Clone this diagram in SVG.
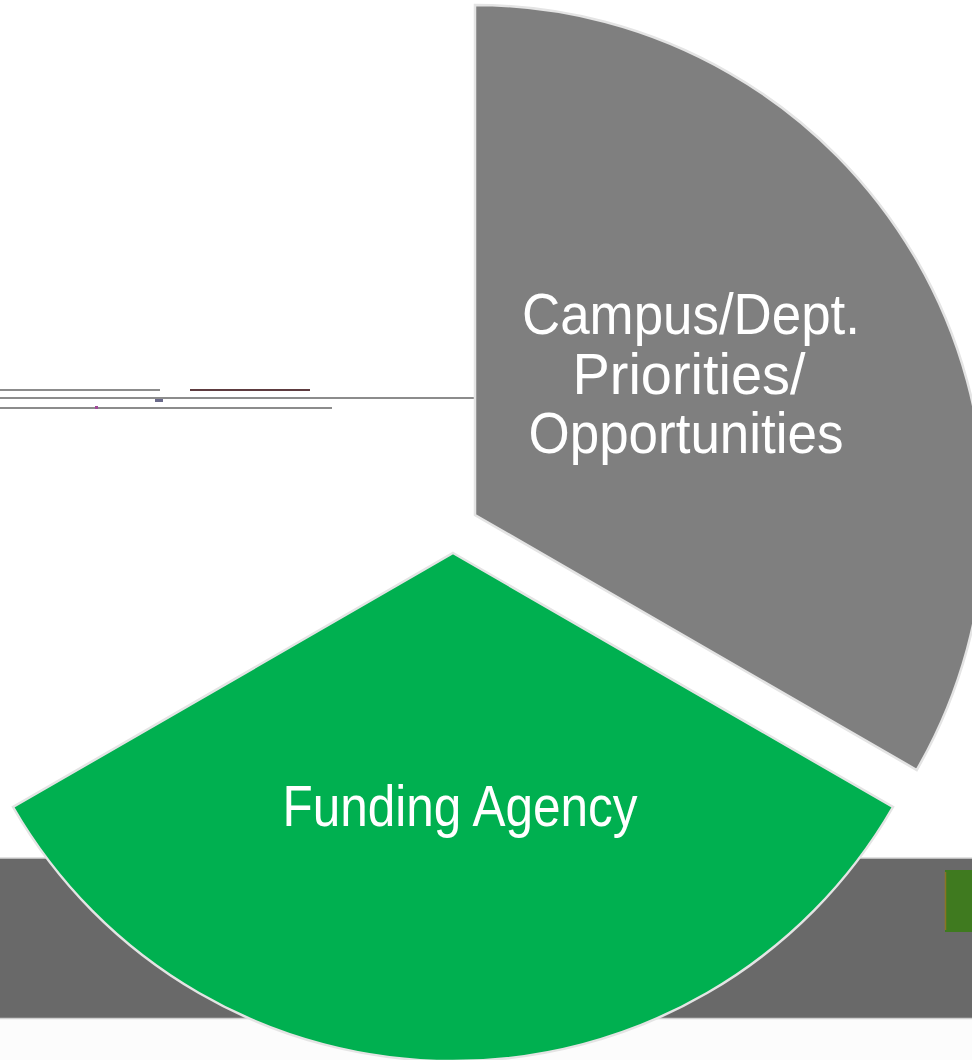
<svg xmlns="http://www.w3.org/2000/svg" width="972" height="1060" viewBox="0 0 972 1060">
<style>
.lbl{font-family:"Liberation Sans",Arial,sans-serif;font-size:58px;fill:#ffffff;text-anchor:middle}
.sector{stroke:#e4e4e4;stroke-width:2.5;stroke-linejoin:miter}
.rule{stroke:#8c8c8c;stroke-width:2}
</style>
<rect x="0" y="0" width="972" height="1060" fill="#ffffff"/>
<g id="band">
<rect x="0" y="1018" width="972" height="42" fill="#fcfcfc"/>
<rect x="0" y="858" width="972" height="160" fill="#696969"/>
<line x1="0" y1="858" x2="972" y2="858" stroke="#d8d8d8" stroke-width="1.5"/>
<line x1="0" y1="1018.5" x2="972" y2="1018.5" stroke="#cfcfcf" stroke-width="1.5"/>
<rect x="945" y="870" width="27" height="62" fill="#3f7a1f"/>
<line x1="945.5" y1="872" x2="945.5" y2="930" stroke="#8a7424" stroke-width="1.5"/>
</g>
<g id="lines">
<line class="rule" x1="0" y1="390" x2="160" y2="390"/>
<line x1="190" y1="390" x2="310" y2="390" stroke="#5e3c40" stroke-width="2"/>
<line class="rule" x1="0" y1="398" x2="474" y2="398"/>
<line class="rule" x1="0" y1="408" x2="332" y2="408"/>
<rect x="155" y="399" width="8" height="3" fill="#6a6a8a"/>
<rect x="95" y="406" width="3" height="3" fill="#a04a9a"/>
</g>
<g id="campus">
<path class="sector" d="M475,515 L475,5 A510,510 0 0 1 916.7,770 Z" fill="#7f7f7f"/>
<text class="lbl" x="691" y="334" textLength="338" lengthAdjust="spacingAndGlyphs">Campus/Dept.</text>
<text class="lbl" x="689" y="394" textLength="233" lengthAdjust="spacingAndGlyphs">Priorities/</text>
<text class="lbl" x="686" y="453" textLength="315" lengthAdjust="spacingAndGlyphs">Opportunities</text>
</g>
<g id="funding">
<path class="sector" d="M453,553 L893,807 A508,508 0 0 1 13,807 Z" fill="#00b050"/>
<text class="lbl" x="460" y="826" textLength="355" lengthAdjust="spacingAndGlyphs">Funding Agency</text>
</g>
</svg>
